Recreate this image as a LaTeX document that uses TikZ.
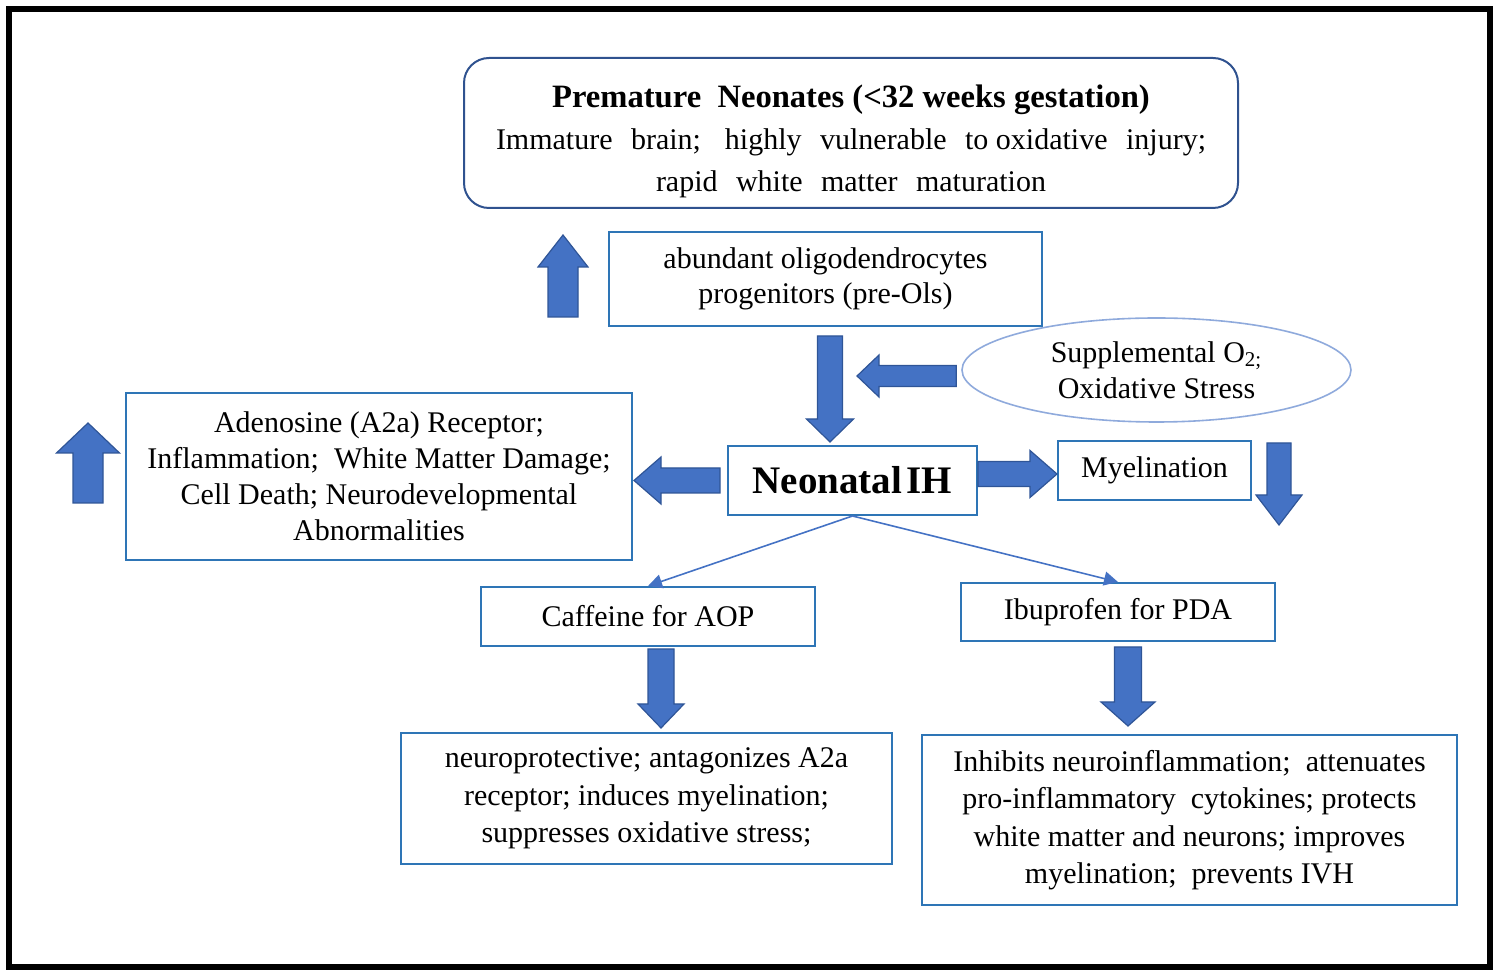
\documentclass[tikz,border=0pt]{standalone}
\usepackage{fontspec}
\setmainfont{Liberation Serif}
\usetikzlibrary{calc,arrows.meta,shapes.geometric}
\definecolor{boxblue}{HTML}{2E75B6}
\definecolor{navy}{HTML}{2F528F}
\definecolor{ellblue}{HTML}{8FAADC}
\definecolor{arrfill}{HTML}{4472C4}
\definecolor{arredge}{HTML}{2F5597}
\begin{document}
\begin{tikzpicture}[x=0.5pt,y=-0.5pt,
  box/.style={draw=boxblue, line width=1pt, inner sep=0pt, align=center,
    font=\fontsize{15}{18}\selectfont},
  topbox/.style={box, draw=navy, rounded corners=12.5pt, font=\fontsize{15}{21}\selectfont},
  ovalbox/.style={ellipse, draw=ellblue, line width=0.8pt, inner sep=0pt, align=center,
    font=\fontsize{15}{18}\selectfont},
  thinarrow/.style={draw=arrfill, line width=0.8pt, -{Triangle[width=7pt,length=7pt]}},
  blk/.style n args={3}{draw=arredge, fill=arrfill, line width=0.6pt,
    to path={
      ($(\tikztostart)!#1!90:(\tikztotarget)$)
      -- ($(\tikztotarget)!#3!(\tikztostart)!#1!90:(\tikztotarget)$)
      -- ($(\tikztotarget)!#3!(\tikztostart)!#2!90:(\tikztotarget)$)
      -- (\tikztotarget)
      -- ($(\tikztotarget)!#3!(\tikztostart)!#2!-90:(\tikztotarget)$)
      -- ($(\tikztotarget)!#3!(\tikztostart)!#1!-90:(\tikztotarget)$)
      -- ($(\tikztostart)!#1!-90:(\tikztotarget)$)
      -- cycle}}
]
\useasboundingbox (0,0) rectangle (1500,977);
\draw[line width=3pt] (9,9) rectangle (1490,967);

% boxes
\node[topbox, minimum width=387pt, minimum height=75pt] (top) at (851,133)
  {\rule{0pt}{20pt}{\bfseries\fontsize{16.3}{21}\selectfont Premature\ \ Neonates (<32 weeks gestation)}\\
   \makebox[355pt][s]{Immature brain; highly vulnerable \mbox{to oxidative} injury;}\\
   \makebox[195pt][s]{rapid white matter maturation}};
\node[box, minimum width=216.5pt, minimum height=47pt, font=\fontsize{15}{17.5}\selectfont] (abund) at (825.5,279)
  {abundant oligodendrocytes\\progenitors (pre-Ols)};
\node[ovalbox, minimum width=194.5pt, minimum height=52pt] (oxy) at (1156.5,370)
  {Supplemental O\textsubscript{2;}\\Oxidative Stress};
\node[box, minimum width=124.5pt, minimum height=34.5pt, font=\bfseries\fontsize{19.5}{22}\selectfont] (ih) at (852.5,480.5)
  {Neonatal\hspace{0.12em}IH};
\node[box, minimum width=253pt, minimum height=83.5pt] (aden) at (379,476.5)
  {Adenosine (A2a) Receptor;\\Inflammation;\ \ White Matter Damage;\\Cell Death; Neurodevelopmental\\Abnormalities};
\node[box, minimum width=96.5pt, minimum height=29.5pt] (myel) at (1154.5,470.5) {Myelination};
\node[box, minimum width=167pt, minimum height=29.5pt] (caff) at (648,616.5) {Caffeine for AOP};
\node[box, minimum width=157pt, minimum height=29pt] (ibu) at (1118,612) {Ibuprofen for PDA};
\node[box, minimum width=245.5pt, minimum height=65.5pt, font=\fontsize{15}{18.7}\selectfont] (bl) at (646.5,798.5)
  {neuroprotective; antagonizes A2a\\receptor; induces myelination;\\suppresses oxidative stress;};
\node[box, minimum width=267.5pt, minimum height=85pt, font=\fontsize{15}{18.7}\selectfont] (br) at (1189.5,820)
  {Inhibits neuroinflammation;\ \ attenuates\\pro-inflammatory\ \ cytokines; protects\\white matter and neurons; improves\\myelination;\ \ prevents IVH};

% thin connectors
\draw[thinarrow] (ih.south) -- (caff.north);
\draw[thinarrow] (ih.south) -- (ibu.north);

% block arrows
\coordinate (upAtail) at (563,317);
\coordinate (upAtip) at (563,235);
\draw[blk={7.5pt}{12.5pt}{16pt}] (upAtail) to (upAtip);

\coordinate (upBtail) at (88,503);
\coordinate (upBtip) at (88,423);
\draw[blk={7.5pt}{15.75pt}{15pt}] (upBtail) to (upBtip);

\coordinate (dnCtail) at (1279,443);
\coordinate (dnCtip) at (1279,525);
\draw[blk={6pt}{11.5pt}{15pt}] (dnCtail) to (dnCtip);

\coordinate (a2tail) at ($(abund.south)+(4.5,9)$);
\draw[blk={6.25pt}{11.75pt}{11.5pt}] (a2tail) to ($(a2tail |- ih.north)+(0,-3)$);

\coordinate (oxtip) at (857,376);
\draw[blk={5.25pt}{10.5pt}{11pt}] ($(oxy.west)+(-5,6)$) to (oxtip);

\coordinate (a5tail) at ($(ih.west)+(-7,0)$);
\draw[blk={6.25pt}{11.75pt}{13.5pt}] (a5tail) to ($(a5tail -| aden.east)+(1,0)$);

\coordinate (a6tail) at ($(ih.east)+(0,-6.5)$);
\draw[blk={6.25pt}{11.75pt}{13.5pt}] (a6tail) to (a6tail -| myel.west);

\coordinate (a8tail) at ($(caff.south)+(13,2)$);
\draw[blk={6.5pt}{11.5pt}{12pt}] (a8tail) to ($(a8tail |- bl.north)+(0,-4)$);

\coordinate (a9tail) at ($(ibu.south)+(10,5)$);
\draw[blk={6.75pt}{13.5pt}{12pt}] (a9tail) to ($(a9tail |- br.north)+(0,-8)$);
\end{tikzpicture}
\end{document}
